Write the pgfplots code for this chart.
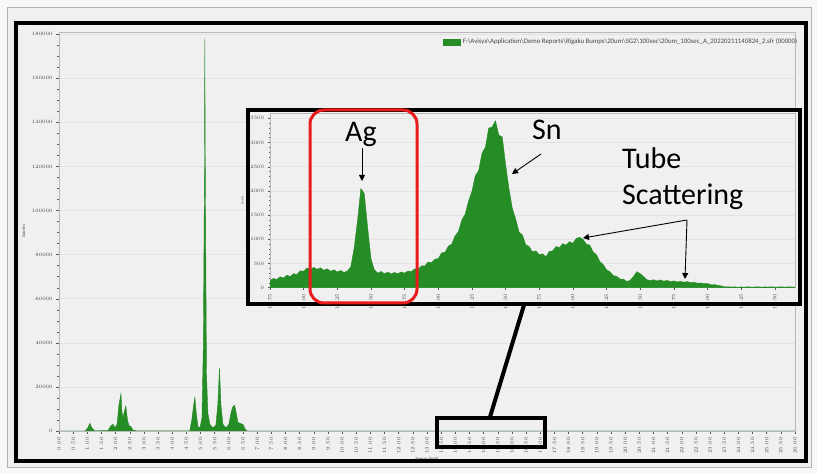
\documentclass[border=0pt]{standalone}
\usepackage{fontspec}
\setmainfont{Carlito}
\usepackage{pgfplots}
\pgfplotsset{compat=1.18}
\usetikzlibrary{arrows.meta}

\definecolor{bgc}{RGB}{240,240,240}
\definecolor{outerbg}{RGB}{247,247,247}
\definecolor{spec}{RGB}{38,140,38}
\definecolor{annred}{RGB}{232,28,28}

\pgfplotsset{
  specaxis/.style={
    scale only axis, anchor=south west,
    axis background/.style={fill=bgc},
    axis line style={gray!55},
    tick style={gray!70!black, line width=0.4pt},
    tick align=outside, tick pos=left,
    ymajorgrids, major grid style={gray!22, line width=0.5pt},
    scaled ticks=false,
    /pgf/number format/1000 sep={},
    ticklabel style={text=gray!55!black},
    yticklabel style={/pgf/number format/fixed, /pgf/number format/precision=0},
  }
}

\begin{document}
\begin{tikzpicture}
\useasboundingbox (0,0) rectangle (817pt,473pt);
\fill[outerbg] (0,0) rectangle (817pt,473pt);
\filldraw[fill=bgc, draw=gray!60, line width=0.6pt] (7pt,6pt) rectangle (811pt,466pt);

% main spectrum
\begin{axis}[specaxis,
  at={(59pt,42pt)}, width=736pt, height=399pt,
  xmin=0, xmax=26, ymin=0, ymax=181000,
  xtick distance=0.5, ytick distance=20000, minor y tick num=3,
  major tick length=3pt, minor tick length=1.8pt,
  xticklabel style={rotate=90, anchor=east, font=\fontsize{4.5}{5}\selectfont,
    /pgf/number format/fixed, /pgf/number format/fixed zerofill, /pgf/number format/precision=2},
  yticklabel style={font=\fontsize{4.5}{5}\selectfont},
  xlabel={Energy (keV)}, ylabel={Counts},
  xlabel style={font=\fontsize{4.5}{5}\selectfont, text=gray!55!black, yshift=3pt},
  ylabel style={font=\fontsize{4.5}{5}\selectfont, text=gray!55!black},
  legend style={at={(1.01,0.975)}, anchor=east, draw=none, fill=none,
    font=\fontsize{6.8}{8}\selectfont, text=gray!55!black},
  area legend,
]
\addplot[fill=spec, draw=spec, line width=0.4pt] coordinates {
  (0,0) (0.92,0) (1.02,1500) (1.09,3500) (1.16,1500) (1.27,100)
  (1.73,200) (1.84,2500) (1.91,3000) (1.98,1500) (2.05,3000) (2.12,12000)
  (2.19,17000) (2.22,9000) (2.26,6000) (2.31,9000) (2.36,11400) (2.42,5000)
  (2.47,2500) (2.54,2000) (2.61,500) (2.72,100)
  (4.62,100) (4.69,5000) (4.77,13000) (4.80,15200) (4.85,8000) (4.91,2000)
  (4.98,1500) (5.05,6000) (5.10,40000) (5.14,120000) (5.15,178000) (5.17,113000)
  (5.21,26000) (5.26,8000) (5.33,3000) (5.44,1500) (5.54,2500) (5.61,12000)
  (5.67,28500) (5.72,12000) (5.79,3000) (5.90,1500) (6.00,3000) (6.07,8000)
  (6.14,11000) (6.20,11700) (6.25,9000) (6.32,4000) (6.39,3500) (6.50,3000)
  (6.57,1000) (6.64,0) (26,0)
} \closedcycle;
\addlegendentry{F:\textbackslash Avisyx\textbackslash Application\textbackslash Demo Reports\textbackslash Rigaku Bumps\textbackslash 20um\textbackslash SG2\textbackslash 100sec\textbackslash 20um\_100sec\_A\_20220211140824\_2.sfr (00000)}
\end{axis}

% annotation frame round the chart
\draw[line width=4.5pt] (16pt,12pt) rectangle (806pt,450pt);

% zoom box and leader
\draw[line width=4pt] (437pt,26pt) rectangle (545pt,55pt);
\draw[line width=4pt] (490pt,56pt) -- (524pt,168pt);

% inset
\fill[bgc] (248pt,169pt) rectangle (800pt,363pt);
\begin{axis}[specaxis,
  at={(270pt,185.3pt)}, width=525pt, height=174.2pt,
  xmin=13.75, xmax=17.65, ymin=0, ymax=3600,
  xtick distance=0.25, ytick distance=500, minor y tick num=4,
  major tick length=2.5pt, minor tick length=1.5pt,
  xticklabel style={rotate=90, anchor=east, font=\fontsize{3}{3.5}\selectfont,
    /pgf/number format/fixed, /pgf/number format/fixed zerofill, /pgf/number format/precision=2},
  yticklabel style={font=\fontsize{3}{3.5}\selectfont},
  ylabel={Counts},
  ylabel style={font=\fontsize{3}{3.5}\selectfont, text=gray!55!black},
]
\addplot[fill=spec, draw=spec, line width=0.4pt] coordinates {
  (13.750,150) (13.775,190) (13.800,170) (13.825,225) (13.850,200) (13.875,260)
  (13.900,230) (13.925,290) (13.950,270) (13.975,350) (14.000,340) (14.025,410)
  (14.050,370) (14.075,420) (14.100,380) (14.125,410) (14.150,360) (14.175,390)
  (14.200,340) (14.225,370) (14.250,325) (14.275,355) (14.300,315) (14.325,345)
  (14.350,430) (14.375,820) (14.400,1380) (14.425,2050) (14.450,1950) (14.475,1250)
  (14.500,600) (14.525,370) (14.550,300) (14.575,335) (14.600,290) (14.625,320)
  (14.650,285) (14.675,315) (14.700,290) (14.725,325) (14.750,300) (14.775,345)
  (14.800,330) (14.825,390) (14.850,380) (14.875,450) (14.900,450) (14.925,530)
  (14.950,520) (14.975,590) (15.000,600) (15.025,720) (15.050,730) (15.075,860)
  (15.100,900) (15.125,1070) (15.150,1160) (15.175,1400) (15.200,1520) (15.225,1790)
  (15.250,1990) (15.275,2310) (15.300,2420) (15.325,2780) (15.350,2900) (15.375,3300)
  (15.400,3320) (15.425,3450) (15.450,3150) (15.475,3120) (15.500,2550) (15.525,2050)
  (15.550,1640) (15.575,1420) (15.600,1150) (15.625,1090) (15.650,890) (15.675,850)
  (15.700,740) (15.725,760) (15.750,680) (15.775,700) (15.800,640) (15.825,750)
  (15.850,760) (15.875,850) (15.900,830) (15.925,910) (15.950,880) (15.975,950)
  (16.000,920) (16.025,1020) (16.050,1040) (16.075,1000) (16.100,900) (16.125,880)
  (16.150,740) (16.175,680) (16.200,540) (16.225,480) (16.250,370) (16.275,330)
  (16.300,250) (16.325,235) (16.350,180) (16.375,175) (16.400,130) (16.425,150)
  (16.450,230) (16.475,330) (16.500,290) (16.525,230) (16.550,165) (16.575,145)
  (16.600,165) (16.625,140) (16.650,160) (16.675,135) (16.700,150) (16.725,125)
  (16.750,140) (16.775,120) (16.800,130) (16.825,115) (16.850,125) (16.875,105)
  (16.900,110) (16.925,95) (16.950,98) (16.975,82) (17.000,85) (17.025,65)
  (17.050,66) (17.075,50) (17.100,38) (17.125,20) (17.150,18) (17.175,14)
  (17.200,17) (17.225,12) (17.250,16) (17.275,13) (17.300,18) (17.325,12)
  (17.350,15) (17.375,17) (17.400,12) (17.425,16) (17.450,14) (17.475,18)
  (17.500,13) (17.525,15) (17.550,17) (17.575,12) (17.600,16) (17.650,14)
} \closedcycle;
\end{axis}
\draw[line width=4pt] (248pt,169pt) rectangle (800pt,363pt);

% annotations
\draw[annred, line width=3pt, rounded corners=14pt] (310pt,170pt) rectangle (417pt,363pt);
\begin{scope}[font=\fontsize{30}{36}\selectfont]
  \node[anchor=base west, inner sep=0pt] at (345pt,331pt) {Ag};
  \node[anchor=base west, inner sep=0pt] at (532pt,333pt) {Sn};
  \node[anchor=base west, inner sep=0pt] at (622pt,304.7pt) {Tube};
  \node[anchor=base west, inner sep=0pt] at (622pt,268pt) {Scattering};
\end{scope}
\begin{scope}[line width=0.9pt, -{Triangle[length=6pt,width=6pt]}]
  \draw (362pt,325pt) -- (362pt,292pt);
  \draw (541pt,319pt) -- (512pt,299pt);
  \draw (687pt,253pt) -- (583pt,235pt);
  \draw (687pt,253pt) -- (685pt,194pt);
\end{scope}
\end{tikzpicture}
\end{document}
